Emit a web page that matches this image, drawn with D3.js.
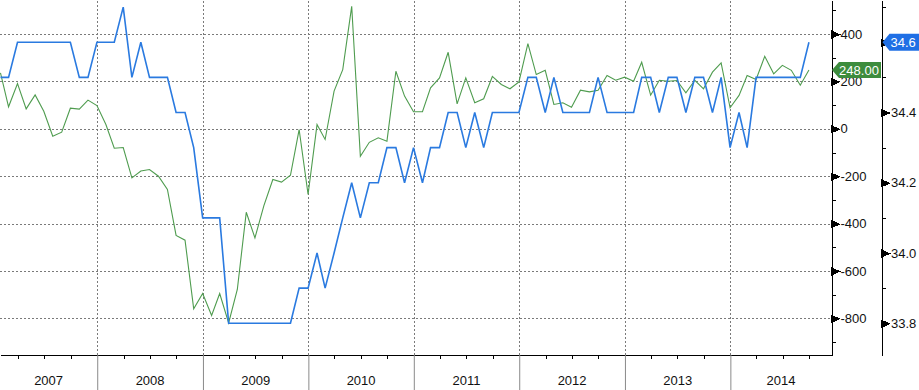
<!DOCTYPE html>
<html>
<head>
<meta charset="utf-8">
<script src="https://cdn.jsdelivr.net/npm/d3@7"></script>
<style>
    body { margin: 0; background: #fff; }
    svg { display: block; font-family: 'Liberation Sans', Arial, sans-serif; }
    .grid line { stroke: #7a7a7a; stroke-dasharray: 2,2; shape-rendering: crispEdges; }
    .grid path { display: none; }
    .axis path, .axis line { stroke: #000; shape-rendering: crispEdges; }
    .axis text { fill: #111; font-size: 13px; }
    .yearSep line { stroke: #8a8a8a; }
    .yearSep path { display: none; }
    .yearLabel { fill: #111; font-size: 13px; }
</style>
</head>
<body>
<div id="chart"></div>
<script>
const years = [2007, 2008, 2009, 2010, 2011, 2012, 2013, 2014]

// monthly, Jan 2007 .. Sep 2014
const payrolls = [
    236, 93, 191, 84, 143, 74, -31, -14, 87, 83, 121, 98,
    18, -82, -79, -207, -178, -172, -200, -256, -450, -470, -760, -695,
    -788, -695, -819, -678, -352, -460, -324, -214, -225, -196, -3, -277,
    18, -45, 159, 250, 517, -116, -57, -38, -52, 243, 138, 72,
    72, 173, 215, 323, 105, 215, 110, 127, 221, 187, 169, 198,
    360, 229, 247, 103, 110, 91, 163, 156, 163, 225, 205, 218,
    201, 281, 142, 205, 201, 204, 152, 205, 169, 239, 278, 89,
    141, 225, 208, 306, 232, 268, 247, 184, 248,
]
const hours = [
    34.5, 34.5, 34.6, 34.6, 34.6, 34.6, 34.6, 34.6, 34.6, 34.5, 34.5, 34.6,
    34.6, 34.6, 34.7, 34.5, 34.6, 34.5, 34.5, 34.5, 34.4, 34.4, 34.3, 34.1,
    34.1, 34.1, 33.8, 33.8, 33.8, 33.8, 33.8, 33.8, 33.8, 33.8, 33.9, 33.9,
    34.0, 33.9, 34.0, 34.1, 34.2, 34.1, 34.2, 34.2, 34.3, 34.3, 34.2, 34.3,
    34.2, 34.3, 34.3, 34.4, 34.4, 34.3, 34.4, 34.3, 34.4, 34.4, 34.4, 34.4,
    34.5, 34.5, 34.4, 34.5, 34.4, 34.4, 34.4, 34.4, 34.5, 34.4, 34.4, 34.4,
    34.4, 34.5, 34.5, 34.4, 34.5, 34.5, 34.4, 34.5, 34.5, 34.4, 34.5, 34.3,
    34.4, 34.3, 34.5, 34.5, 34.5, 34.5, 34.5, 34.5, 34.6,
]

const payrollTicks = [400, 200, 0, -200, -400, -600, -800]
const payrollMinorTicks = [500, 300, 100, -100, -300, -500, -700, -900]
const hoursTicks = [34.6, 34.4, 34.2, 34.0, 33.8]
const hoursMinorTicks = [34.7, 34.5, 34.3, 34.1, 33.9]

const width = 919
const height = 390
const plotRight = 831.5
const plotBottom = 355
const hoursAxisX = 881.5

const dates = payrolls.map((d, i) => new Date(2007, i + 1, 0))
const payrollData = payrolls.map((v, i) => ({ date: dates[i], value: v }))
const hoursData = hours.map((v, i) => ({ date: dates[i], value: v }))

const xFull = d3.scaleTime()
    .domain([new Date(2007, 0, 1), new Date(2015, 0, 1)])
    .range([-8.2, 835.8])
const x = d3.scaleTime()
    .domain([xFull.invert(0), xFull.invert(plotRight)])
    .range([0, plotRight])
const yPay = d3.scaleLinear().domain([-954.6, 543.7]).range([plotBottom, 0])
const yHours = d3.scaleLinear().domain([33.7097, 34.7204]).range([plotBottom, 0])

const svg = d3.select('#chart').append('svg')
    .attr('width', width)
    .attr('height', height)

svg.append('defs').append('clipPath').attr('id', 'plotClip')
    .append('rect').attr('x', 0).attr('y', 0).attr('width', plotRight).attr('height', plotBottom)

const yearStarts = years.slice(1).map(y => new Date(y, 0, 1))
const quarterStarts = []
years.forEach(y => [3, 6, 9].forEach(m => quarterStarts.push(new Date(y, m, 1))))

// grid
svg.append('g').attr('class', 'grid')
    .call(d3.axisLeft(yPay).tickValues(payrollTicks).tickSize(-plotRight).tickFormat(''))
svg.append('g').attr('class', 'grid')
    .attr('transform', `translate(0, ${plotBottom})`)
    .call(d3.axisBottom(x).tickValues(yearStarts).tickSize(-plotBottom).tickFormat(''))

// series
const plot = svg.append('g').attr('clip-path', 'url(#plotClip)')
plot.append('path')
    .datum(payrollData)
    .attr('fill', 'none')
    .attr('stroke', '#4f9c4f')
    .attr('stroke-width', 1.1)
    .attr('d', d3.line().x(d => x(d.date)).y(d => yPay(d.value)))
plot.append('path')
    .datum(hoursData)
    .attr('fill', 'none')
    .attr('stroke', '#2a7ae0')
    .attr('stroke-width', 1.6)
    .attr('d', d3.line().x(d => x(d.date)).y(d => yHours(d.value)))

// bottom axis
svg.append('g').attr('class', 'axis')
    .attr('transform', `translate(0, ${plotBottom})`)
    .call(d3.axisBottom(x).tickValues(quarterStarts.filter(d => x(d) <= plotRight))
        .tickSize(4).tickSizeOuter(0).tickFormat(''))
svg.append('g').attr('class', 'yearSep')
    .attr('transform', `translate(0, ${plotBottom})`)
    .call(d3.axisBottom(x).tickValues(yearStarts).tickSize(height - plotBottom).tickFormat(''))

svg.append('g').selectAll('text')
    .data(years)
    .join('text')
        .attr('class', 'yearLabel')
        .attr('text-anchor', 'middle')
        .attr('x', y => {
            const a = Math.max(0, x(new Date(y, 0, 1)))
            const b = Math.min(plotRight, x(new Date(y + 1, 0, 1)))
            return (a + b) / 2
        })
        .attr('y', 385)
        .text(y => y)

// payrolls axis
function addMarkers(axisG) {
    axisG.selectAll('.tick').append('path')
        .attr('d', 'M0,-3.5L8,0L0,3.5Z')
        .attr('fill', '#000')
}

const payAxis = svg.append('g').attr('class', 'axis')
    .attr('transform', `translate(${plotRight}, 0)`)
    .call(d3.axisRight(yPay).tickValues(payrollTicks).tickSize(0).tickSizeOuter(0)
        .tickPadding(9).tickFormat(d => String(d)))
addMarkers(payAxis)
svg.append('g').attr('class', 'axis')
    .attr('transform', `translate(${plotRight}, 0)`)
    .call(d3.axisRight(yPay).tickValues(payrollMinorTicks).tickSize(4).tickFormat(''))
    .select('.domain').remove()

// hours axis
const hoursAxis = svg.append('g').attr('class', 'axis')
    .attr('transform', `translate(${hoursAxisX}, 0)`)
    .call(d3.axisRight(yHours).tickValues(hoursTicks).tickSize(0).tickSizeOuter(0)
        .tickPadding(9.5).tickFormat(d3.format('.1f')))
addMarkers(hoursAxis)
svg.append('g').attr('class', 'axis')
    .attr('transform', `translate(${hoursAxisX}, 0)`)
    .call(d3.axisRight(yHours).tickValues(hoursMinorTicks).tickSize(4).tickFormat(''))
    .select('.domain').remove()

// last value tags
function valueTag(x0, x1, y, h, fill, label, textX, anchor) {
    const g = svg.append('g')
    g.append('path')
        .attr('d', `M${x0},${y}L${x0 + 7},${y - h / 2}L${x1},${y - h / 2}L${x1},${y + h / 2}L${x0 + 7},${y + h / 2}Z`)
        .attr('fill', fill)
    g.append('text')
        .attr('x', textX)
        .attr('y', y)
        .attr('dy', '0.36em')
        .attr('text-anchor', anchor)
        .attr('fill', '#fff')
        .attr('font-size', 13)
        .text(label)
}

const lastPay = payrolls[payrolls.length - 1]
const lastHours = hours[hours.length - 1]
valueTag(plotRight + 0.5, hoursAxisX - 0.5, yPay(lastPay), 16, '#3d8c3d', d3.format('.2f')(lastPay), 859, 'middle')
valueTag(hoursAxisX + 1, width, yHours(lastHours), 17, '#1f6fe5', d3.format('.1f')(lastHours), 890.5, 'start')
</script>
</body>
</html>
